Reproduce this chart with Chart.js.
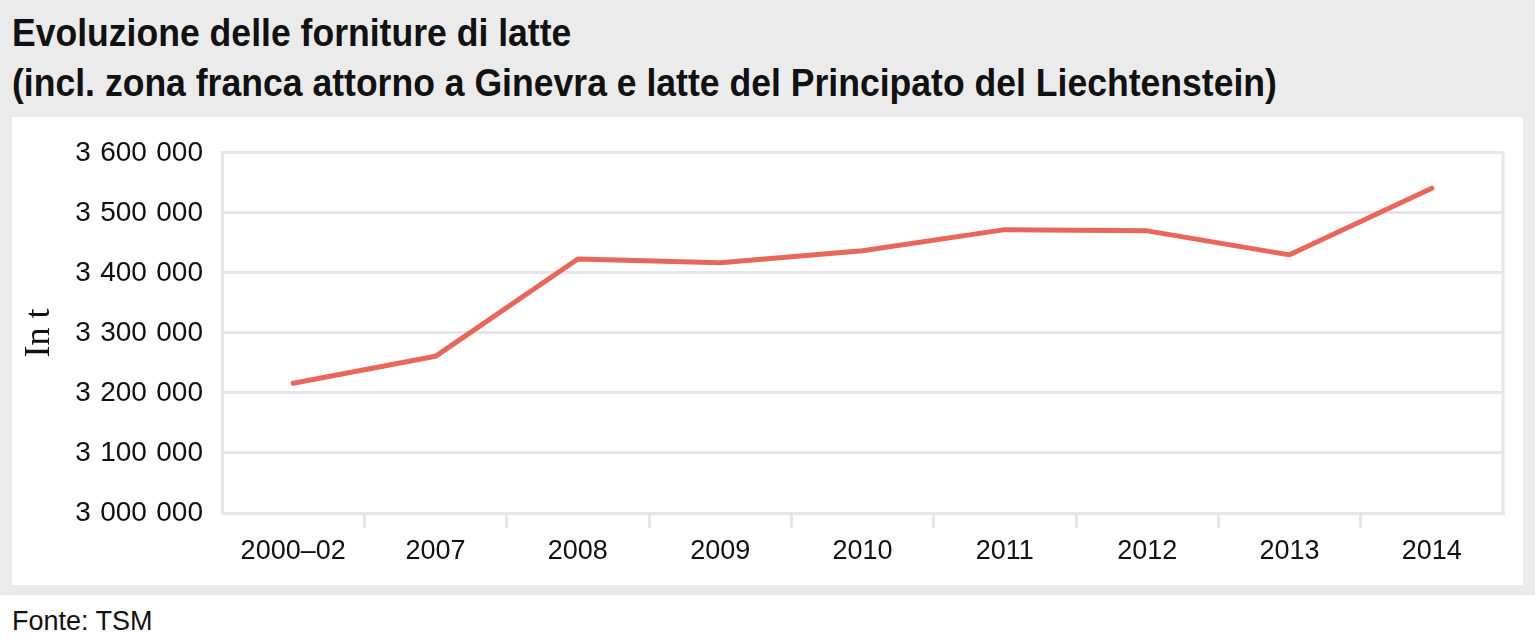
<!DOCTYPE html>
<html>
<head>
<meta charset="utf-8">
<script src="https://cdn.jsdelivr.net/npm/chart.js@4"></script>
<style>
  html, body { margin: 0; padding: 0; background: #ffffff; }
  body { width: 1535px; height: 641px; position: relative; overflow: hidden; }
  #top { position: absolute; left: 0; top: 0; width: 1535px; height: 595px; background: #ebebeb; }
  #title { position: absolute; left: 12px; top: 8px; font-family: "Liberation Sans", sans-serif;
           font-weight: bold; font-size: 38px; line-height: 50px; color: #111; white-space: nowrap;
           transform: scaleX(0.936); transform-origin: 0 0; }
  #panel { position: absolute; left: 12px; top: 117px; width: 1511px; height: 468px; background: #ffffff; }
  #source { position: absolute; left: 12px; top: 606px; font-family: "Liberation Sans", sans-serif; font-size: 27px; color: #111; }
</style>
</head>
<body>
<div id="top">
  <div id="title">Evoluzione delle forniture di latte<br>(incl. zona franca attorno a Ginevra e latte del Principato del Liechtenstein)</div>
  <div id="panel"><canvas id="milkChart" width="1511" height="468"></canvas></div>
</div>
<div id="source">Fonte: TSM</div>
<script>
// Data
var years = ['2000–02', '2007', '2008', '2009', '2010', '2011', '2012', '2013', '2014'];
var deliveries = [3216000, 3261000, 3423000, 3417000, 3437000, 3472000, 3470000, 3430000, 3541000];
var yTicks = [3000000, 3100000, 3200000, 3300000, 3400000, 3500000, 3600000];

var gridColor = '#e6e6e6';

// draws the right edge of the plot frame
var frameRight = {
    id: 'frameRight',
    afterDraw: function(chart) {
        var a = chart.chartArea, c = chart.ctx;
        c.save();
        c.strokeStyle = gridColor;
        c.lineWidth = 3;
        c.beginPath();
        c.moveTo(a.right, a.top - 1.5);
        c.lineTo(a.right, a.bottom + 1.5);
        c.stroke();
        c.restore();
    }
};

function fmt(v) {
    return String(v).replace(/\B(?=(\d{3})+(?!\d))/g, '\u2004');
}

var ctx = document.getElementById('milkChart').getContext('2d');
var milkChart = new Chart(ctx, {
    type: 'line',
    data: {
        labels: years,
        datasets: [{
            data: deliveries,
            borderColor: '#e8675a',
            borderWidth: 5,
            borderCapStyle: 'round',
            borderJoinStyle: 'round',
            pointRadius: 0,
            tension: 0
        }]
    },
    options: {
        responsive: false,
        animation: false,
        devicePixelRatio: 1,
        layout: { padding: { left: 0, right: 20, top: 35, bottom: 0 } },
        plugins: { legend: { display: false }, tooltip: { enabled: false } },
        scales: {
            x: {
                offset: true,
                grid: {
                    offset: true,
                    drawOnChartArea: false,
                    tickLength: 15,
                    lineWidth: 3,
                    color: function(c) {
                        return (c.type !== 'tick' || c.index === 0) ? 'rgba(0,0,0,0)' : gridColor;
                    }
                },
                border: { display: true, color: gridColor, width: 3 },
                ticks: {
                    padding: 7,
                    color: '#111',
                    maxRotation: 0,
                    font: { family: 'Liberation Sans', size: 27 }
                },
                afterFit: function(scale) { scale.height = 72; }
            },
            y: {
                min: yTicks[0],
                max: yTicks[yTicks.length - 1],
                afterBuildTicks: function(scale) {
                    scale.ticks = yTicks.map(function(v) { return { value: v }; });
                },
                grid: { color: gridColor, lineWidth: 3, drawTicks: false },
                border: { display: true, color: gridColor, width: 3 },
                ticks: {
                    padding: 19,
                    color: '#111',
                    font: { family: 'Liberation Sans', size: 28 },
                    callback: function(v) { return fmt(v); }
                },
                title: {
                    display: true,
                    text: 'In t',
                    color: '#111',
                    font: { family: 'Liberation Serif', size: 36 },
                    padding: { top: 6, bottom: 0 }
                },
                afterFit: function(scale) { scale.width = 210; }
            }
        }
    },
    plugins: [frameRight]
});
</script>
</body>
</html>
